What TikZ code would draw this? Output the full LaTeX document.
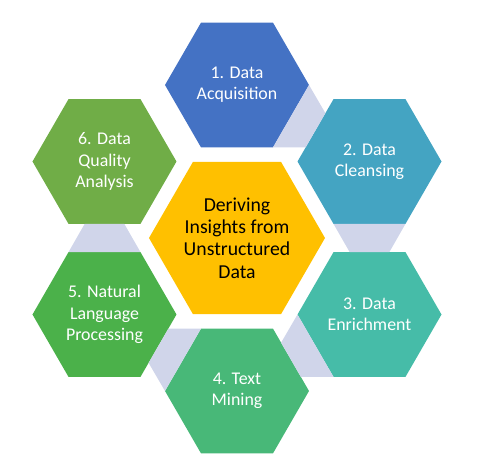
\documentclass[tikz,border=0pt]{standalone}
\usepackage{fontspec}
\setmainfont{Carlito}
\usepackage{tikz}
\usetikzlibrary{shapes, positioning, calc}

\definecolor{hexone}{HTML}{4472C4}
\definecolor{hextwo}{HTML}{44A4C2}
\definecolor{hexthree}{HTML}{46BCA8}
\definecolor{hexfour}{HTML}{48B878}
\definecolor{hexfive}{HTML}{4BB14A}
\definecolor{hexsix}{HTML}{70AD47}
\definecolor{hexcore}{HTML}{FFC000}
\definecolor{linkfill}{HTML}{D0D5EA}

\begin{document}
\begin{tikzpicture}[
    % 1. 스타일 정의
    x=0.75pt, y=0.75pt,
    hexa/.style={regular polygon, regular polygon sides=6, minimum size=108pt, inner sep=0pt, outer sep=0pt, text=white, align=center, font=\fontsize{13.4}{15.9}\selectfont},
    corehex/.style={regular polygon, regular polygon sides=6, minimum size=132pt, inner sep=0pt, outer sep=0pt, fill=hexcore, text=black, align=center, font=\fontsize{14.8}{16.7}\selectfont},
    link/.style={fill=linkfill}
]
    \useasboundingbox (-237, -234) rectangle (241, 238);

    % =================================================================
    % I. 중앙 육각형 (Core)
    % =================================================================
    \node[corehex] (Core) at (0, 0) {Deriving\\Insights from\\Unstructured\\Data};

    % =================================================================
    % II. 주변 육각형 (Steps)
    % =================================================================
    \node[hexa, fill=hexone] (Acq) at (90:153) {1. Data\\Acquisition};
    \node[hexa, fill=hextwo] (Clean) at (30:153) {2. Data\\Cleansing};
    \node[hexa, fill=hexthree] (Enrich) at (-30:153) {3. Data\\Enrichment};
    \node[hexa, fill=hexfour] (Mining) at (-90:153) {4. Text\\Mining};
    \node[hexa, fill=hexfive] (NLP) at (-150:153) {5. Natural\\Language\\Processing};
    \node[hexa, fill=hexsix] (Quality) at (150:153) {6. Data\\Quality\\Analysis};

    % =================================================================
    % III. 연결 사다리꼴 (Links)
    % =================================================================
    \fill[link] (Acq.0) -- ($(Clean.120)!0.225!(Clean.180)$) -- ($(Clean.180)!0.225!(Clean.120)$) -- (Acq.-60) -- cycle;
    \fill[link] (Clean.-60) -- ($(Enrich.60)!0.225!(Enrich.120)$) -- ($(Enrich.120)!0.225!(Enrich.60)$) -- (Clean.-120) -- cycle;
    \fill[link] (Enrich.-120) -- ($(Mining.0)!0.225!(Mining.60)$) -- ($(Mining.60)!0.225!(Mining.0)$) -- (Enrich.180) -- cycle;
    \fill[link] (Mining.180) -- ($(NLP.-60)!0.225!(NLP.0)$) -- ($(NLP.0)!0.225!(NLP.-60)$) -- (Mining.120) -- cycle;
    \fill[link] (NLP.120) -- ($(Quality.-120)!0.225!(Quality.-60)$) -- ($(Quality.-60)!0.225!(Quality.-120)$) -- (NLP.60) -- cycle;

\end{tikzpicture}
\end{document}
